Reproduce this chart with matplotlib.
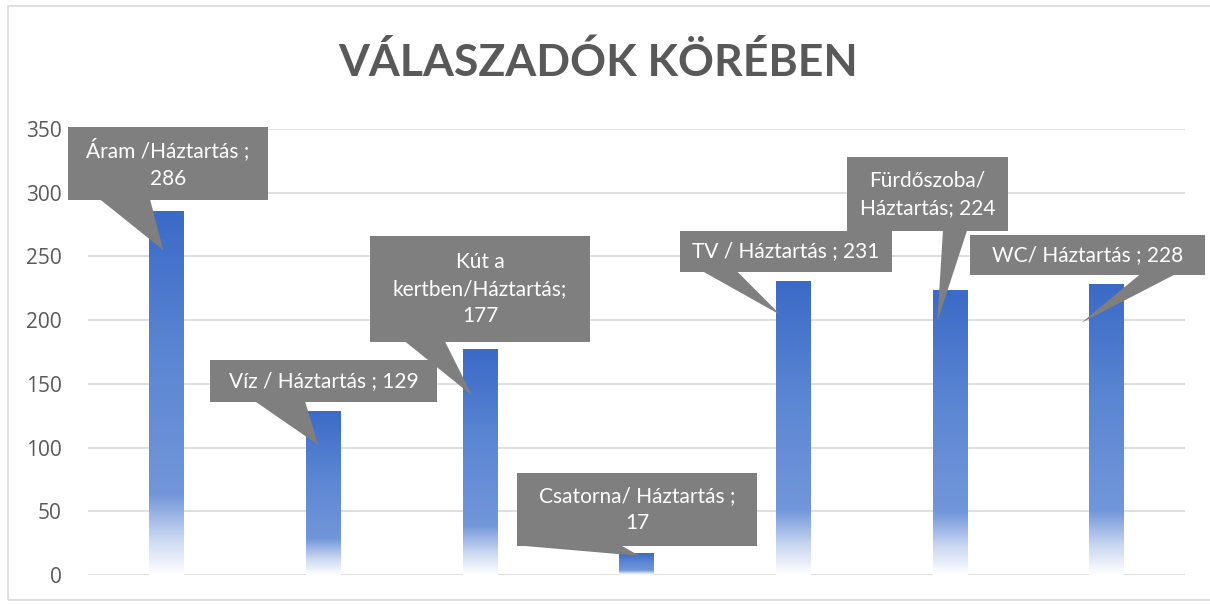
import numpy as np
import matplotlib
matplotlib.use("Agg")
import matplotlib.pyplot as plt
from matplotlib.colors import LinearSegmentedColormap
from matplotlib.patches import Polygon, Rectangle

# -----------------------------
# Data
# -----------------------------
labels = [
    "Áram /Háztartás ;\n286",
    "Víz / Háztartás ; 129",
    "Kút a\nkertben/Háztartás;\n177",
    "Csatorna/ Háztartás ;\n17",
    "TV / Háztartás ; 231",
    "Fürdőszoba/\nHáztartás; 224",
    "WC/ Háztartás ; 228",
]
values = [286, 129, 177, 17, 231, 224, 228]
y_ticks = [0, 50, 100, 150, 200, 250, 300, 350]

# -----------------------------
# Callout layout (data coords): box x0, x1, y0, y1, wedge base x0, x1, tip dx, tip dy
# -----------------------------
callouts = [
    (-0.628, 0.649, 294.3, 351.6, -0.423, -0.104, -0.02, -31),
    (0.279, 1.727, 135.8, 168.7, 0.566, 0.885, -0.03, -27),
    (1.300, 2.703, 182.8, 266.0, 1.523, 1.778, -0.05, -36),
    (2.238, 3.769, 22.8, 80.0, 2.238, 2.900, 0.02, -2),
    (3.278, 4.630, 238.0, 270.0, 3.420, 3.640, -0.08, -27),
    (4.343, 5.370, 270.0, 328.0, 4.956, 5.110, -0.08, -25),
    (5.128, 6.630, 235.4, 266.8, 6.213, 6.436, -0.16, -30),
]

box_color = "#7F7F7F"
text_color = "#595959"
grid_color = "#D9D9D9"

cmap = LinearSegmentedColormap.from_list(
    "bar_fade",
    [(0.0, "#FFFFFF"), (0.10, "#C9D7F1"), (0.22, "#7296D9"), (0.6, "#5B86D3"), (1.0, "#3B6AC7")],
)

fig = plt.figure(figsize=(12.1, 6.04), dpi=100)
ax = fig.add_axes([0.0727, 0.048, 0.9066, 0.7384])

x = np.arange(len(values))
bars = ax.bar(x, values, width=0.22, color="none", edgecolor="none", zorder=2)

grad = np.linspace(0, 1, 256).reshape(-1, 1)
for bar in bars:
    x0 = bar.get_x()
    im = ax.imshow(
        grad,
        extent=[x0, x0 + bar.get_width(), 0, bar.get_height()],
        origin="lower",
        aspect="auto",
        cmap=cmap,
        zorder=2,
    )
    im.set_clip_path(bar)

# callouts
for i, (bx0, bx1, by0, by1, wx0, wx1, tdx, tdy) in enumerate(callouts):
    tip = (x[i] + tdx, values[i] + tdy)
    ax.add_patch(Rectangle((bx0, by0), bx1 - bx0, by1 - by0, facecolor=box_color,
                           edgecolor="none", zorder=3, clip_on=False))
    ax.add_patch(Polygon([(wx0, by0 + 0.5), (wx1, by0 + 0.5), tip], closed=True,
                         facecolor=box_color, edgecolor="none", zorder=3, clip_on=False))
    ax.text((bx0 + bx1) / 2, (by0 + by1) / 2, labels[i], ha="center", va="center",
            color="white", fontsize=15, family="Lato", linespacing=1.45,
            zorder=4, clip_on=False)

ax.set_xlim(-0.5, len(values) - 0.5)
ax.set_ylim(0, 350)
ax.set_yticks(y_ticks)
ax.set_xticks([])
ax.yaxis.grid(True, color=grid_color, linewidth=1.2)
ax.set_axisbelow(True)
for s in ax.spines.values():
    s.set_visible(False)
ax.tick_params(axis="y", length=0, pad=19, labelsize=15, labelcolor=text_color)
for lab in ax.get_yticklabels():
    lab.set_family("Open Sans")

fig.text(0.494, 0.897, "VÁLASZADÓK KÖRÉBEN", ha="center", va="center",
         fontsize=32, fontweight="bold", color=text_color, family="Lato")

# chart frame
fig.add_artist(Rectangle((0.0066, 0.007), 1.0, 0.983, transform=fig.transFigure,
                         facecolor="none", edgecolor="#D9D9D9", linewidth=1.2))

fig.savefig("out.png", dpi=100)
